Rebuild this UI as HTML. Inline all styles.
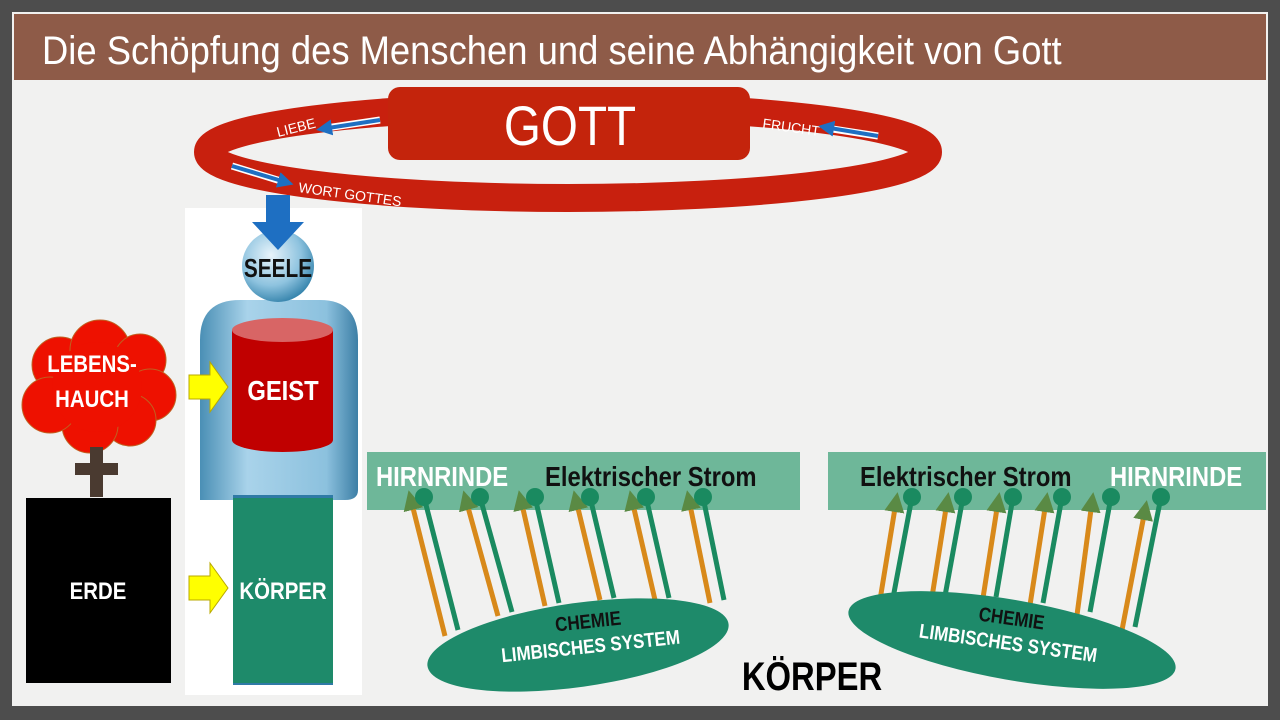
<!DOCTYPE html>
<html><head><meta charset="utf-8"><style>
html,body{margin:0;padding:0;width:1280px;height:720px;overflow:hidden;background:#5a5a5a}
svg{display:block}
text{font-family:"Liberation Sans",sans-serif}
</style></head><body>
<svg width="1280" height="720" viewBox="0 0 1280 720" xmlns="http://www.w3.org/2000/svg">
<defs>
<radialGradient id="hd" cx="0.4" cy="0.35" r="0.7"><stop offset="0" stop-color="#e8f4fb"/><stop offset="0.6" stop-color="#8ec3df"/><stop offset="1" stop-color="#2f7fa8"/></radialGradient>
<linearGradient id="bd" x1="0" x2="1"><stop offset="0" stop-color="#4a8fb5"/><stop offset="0.3" stop-color="#a9d3ea"/><stop offset="0.8" stop-color="#8cc1de"/><stop offset="1" stop-color="#3d7fa6"/></linearGradient>
<marker id="ah" markerWidth="4" markerHeight="4" refX="2" refY="2" orient="auto" markerUnits="strokeWidth"><path d="M0,0L4,2L0,4z" fill="#5a8a44"/></marker>
<marker id="dt" markerWidth="4" markerHeight="4" refX="2" refY="2" markerUnits="strokeWidth"><circle cx="2" cy="2" r="1.8" fill="#1a8a60"/></marker>
<marker id="ba" markerWidth="4" markerHeight="4" refX="1" refY="2" orient="auto" markerUnits="strokeWidth"><path d="M0,0L4,2L0,4z" fill="#1e6fc2"/></marker>
</defs>
<rect x="0" y="0" width="1280" height="720" fill="#4d4d4d"/>
<rect x="12" y="12" width="1256" height="694" fill="#f1f1f0"/>
<rect x="14" y="14" width="1252" height="66" fill="#8e5b48"/>
<text x="42" y="64" font-size="40" fill="#fff" transform="scale(0.91,1)" style="transform-origin:42px 64px">Die Schöpfung des Menschen und seine Abhängigkeit von Gott</text>

<ellipse cx="568" cy="152" rx="360" ry="46" fill="none" stroke="#c8200e" stroke-width="28"/>
<rect x="388" y="87" width="362" height="73" rx="12" fill="#c4240c"/>
<text x="570" y="145" font-size="56" fill="#fff" text-anchor="middle" transform="scale(0.85,1)" style="transform-origin:570px 145px">GOTT</text>
<text x="278" y="137" font-size="14" fill="#fff" transform="rotate(-14 278 137)">LIEBE</text>
<path d="M326,128 L380,120" stroke="#fff" stroke-width="7"/><path d="M328,128 L380,120" stroke="#1e6fc2" stroke-width="4" marker-end="url(#ba)" transform="rotate(180 354 124)"/>
<text x="762" y="128" font-size="14" fill="#fff" transform="rotate(8 762 128)">FRUCHT</text>
<path d="M826,128 L878,136" stroke="#fff" stroke-width="7"/><path d="M878,136 L830,128" stroke="#1e6fc2" stroke-width="4" marker-end="url(#ba)"/>
<text x="298" y="192" font-size="14" fill="#fff" transform="rotate(8 298 192)">WORT GOTTES</text>
<path d="M232,166 L284,182" stroke="#fff" stroke-width="7"/><path d="M232,166 L282,181" stroke="#1e6fc2" stroke-width="4" marker-end="url(#ba)"/>

<rect x="185" y="208" width="177" height="487" fill="#fff"/>
<path d="M200,340 Q200,300 240,300 L320,300 Q358,300 358,340 L358,490 Q358,500 345,500 L200,500 Z" fill="url(#bd)"/>
<rect x="233" y="495" width="100" height="190" fill="#2f7aa6"/>
<circle cx="278" cy="266" r="36" fill="url(#hd)"/>
<rect x="266" y="195" width="24" height="30" fill="#1e6fc2"/>
<path d="M252,222 L304,222 L278,250z" fill="#1e6fc2"/>
<text x="278" y="277" font-size="26" font-weight="bold" text-anchor="middle" fill="#111" transform="scale(0.8,1)" style="transform-origin:278px 277px">SEELE</text>
<rect x="232" y="330" width="101" height="110" fill="#c00000"/>
<ellipse cx="282.5" cy="440" rx="50.5" ry="12" fill="#c00000"/>
<ellipse cx="282.5" cy="330" rx="50.5" ry="12" fill="#d86565"/>
<text x="283" y="400" font-size="28" font-weight="bold" text-anchor="middle" fill="#fff" transform="scale(0.85,1)" style="transform-origin:283px 400px">GEIST</text>
<rect x="233" y="498" width="100" height="185" fill="#1e8a6a"/>
<text x="283" y="599" font-size="24" font-weight="bold" text-anchor="middle" fill="#fff" transform="scale(0.85,1)" style="transform-origin:283px 599px">KÖRPER</text>
<path d="M189,375 L210,375 L210,362 L228,387 L210,412 L210,399 L189,399z" fill="#ffff00" stroke="#b8a800"/>
<path d="M189,576 L210,576 L210,563 L228,588 L210,613 L210,600 L189,600z" fill="#ffff00" stroke="#b8a800"/>

<g fill="#ee1100" stroke="#c06020" stroke-width="1">
<circle cx="60" cy="365" r="28"/><circle cx="100" cy="350" r="30"/><circle cx="140" cy="360" r="26"/>
<circle cx="150" cy="395" r="26"/><circle cx="130" cy="420" r="26"/><circle cx="90" cy="425" r="28"/>
<circle cx="50" cy="405" r="28"/><circle cx="97" cy="387" r="45" stroke="none"/>
</g>
<text x="92" y="372" font-size="24" font-weight="bold" text-anchor="middle" fill="#fff" transform="scale(0.85,1)" style="transform-origin:92px 372px">LEBENS-</text>
<text x="92" y="407" font-size="24" font-weight="bold" text-anchor="middle" fill="#fff" transform="scale(0.85,1)" style="transform-origin:92px 407px">HAUCH</text>
<path d="M90,447h13v16h15v12h-15v22h-13v-22h-15v-12h15z" fill="#4a3a30"/>
<rect x="26" y="498" width="145" height="185" fill="#000"/>
<text x="98" y="599" font-size="24" font-weight="bold" text-anchor="middle" fill="#fff" transform="scale(0.85,1)" style="transform-origin:98px 599px">ERDE</text>

<rect x="367" y="452" width="433" height="58" fill="#5fb08f" opacity="0.9"/>
<rect x="828" y="452" width="438" height="58" fill="#5fb08f" opacity="0.9"/>
<text x="376" y="486" font-size="28" font-weight="bold" fill="#fff" transform="scale(0.85,1)" style="transform-origin:376px 486px">HIRNRINDE</text>
<text x="545" y="486" font-size="28" font-weight="bold" fill="#111" transform="scale(0.85,1)" style="transform-origin:545px 486px">Elektrischer Strom</text>
<text x="860" y="486" font-size="28" font-weight="bold" fill="#111" transform="scale(0.85,1)" style="transform-origin:860px 486px">Elektrischer Strom</text>
<text x="1110" y="486" font-size="28" font-weight="bold" fill="#fff" transform="scale(0.85,1)" style="transform-origin:1110px 486px">HIRNRINDE</text>

<g stroke-width="5">
<g stroke="#d8891a" marker-end="url(#ah)">
<path d="M445,636L411,500"/><path d="M498,616L466,500"/><path d="M545,606L521,500"/><path d="M600,600L576,500"/><path d="M655,600L632,500"/><path d="M710,603L689,500"/>
<path d="M880,600L896,502"/><path d="M932,597L947,502"/><path d="M983,598L998,502"/><path d="M1030,605L1046,502"/><path d="M1077,615L1092,502"/><path d="M1122,630L1145,510"/>
</g>
<g stroke="#1a8a60" marker-end="url(#dt)">
<path d="M458,630L424,497"/><path d="M512,612L480,497"/><path d="M559,603L535,497"/><path d="M614,598L590,497"/><path d="M669,598L646,497"/><path d="M724,600L703,497"/>
<path d="M893,598L912,497"/><path d="M945,596L963,497"/><path d="M996,597L1013,497"/><path d="M1043,603L1062,497"/><path d="M1090,612L1111,497"/><path d="M1135,627L1161,497"/>
</g>
</g>
<ellipse cx="578" cy="645" rx="152" ry="42" fill="#1e8a6a" transform="rotate(-8 578 645)"/>
<ellipse cx="1012" cy="640" rx="166" ry="40" fill="#1e8a6a" transform="rotate(10 1012 640)"/>
<g transform="rotate(-6 590 640)">
<text x="590" y="628" font-size="20" font-weight="bold" text-anchor="middle" fill="#111" transform="scale(0.85,1)" style="transform-origin:590px 628px">CHEMIE</text>
<text x="590" y="653" font-size="20" font-weight="bold" text-anchor="middle" fill="#fff" transform="scale(0.85,1)" style="transform-origin:590px 653px">LIMBISCHES SYSTEM</text>
</g>
<g transform="rotate(8 1010 630)">
<text x="1010" y="625" font-size="20" font-weight="bold" text-anchor="middle" fill="#111" transform="scale(0.85,1)" style="transform-origin:1010px 625px">CHEMIE</text>
<text x="1010" y="650" font-size="20" font-weight="bold" text-anchor="middle" fill="#fff" transform="scale(0.85,1)" style="transform-origin:1010px 650px">LIMBISCHES SYSTEM</text>
</g>
<text x="812" y="690" font-size="40" font-weight="bold" text-anchor="middle" fill="#000" transform="scale(0.82,1)" style="transform-origin:812px 690px">KÖRPER</text>
</svg>
</body></html>
